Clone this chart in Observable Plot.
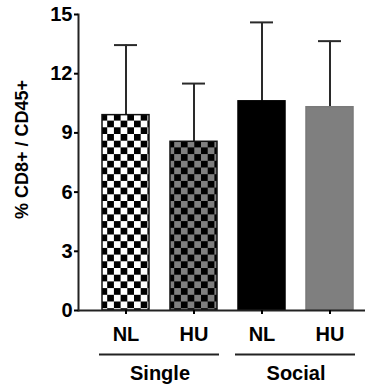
<!DOCTYPE html>
<html>
<head>
<meta charset="utf-8">
<script src="https://cdn.jsdelivr.net/npm/d3@7"></script>
<script src="https://cdn.jsdelivr.net/npm/@observablehq/plot@0.6"></script>
<style>
  html, body { margin: 0; padding: 0; background: #fff; }
  #chart svg { display: block; }
</style>
</head>
<body>
<svg width="0" height="0" style="position:absolute">
  <defs>
    <pattern id="checkWhite" patternUnits="userSpaceOnUse" width="13.4" height="13.4">
      <rect width="13.4" height="13.4" fill="#ffffff"></rect>
      <rect x="0" y="0" width="6.7" height="6.7" fill="#000"></rect>
      <rect x="6.7" y="6.7" width="6.7" height="6.7" fill="#000"></rect>
    </pattern>
    <pattern id="checkGray" patternUnits="userSpaceOnUse" width="13.4" height="13.4">
      <rect width="13.4" height="13.4" fill="#7f7f7f"></rect>
      <rect x="0" y="0" width="6.7" height="6.7" fill="#000"></rect>
      <rect x="6.7" y="6.7" width="6.7" height="6.7" fill="#000"></rect>
    </pattern>
  </defs>
</svg>
<div id="chart"></div>
<script>
// Data
const groups = ["Single", "Single", "Social", "Social"];
const conditions = ["NL", "HU", "NL", "HU"];
const means = [9.9, 8.55, 10.6, 10.3];
const sds = [3.55, 2.95, 4.0, 3.35];
const yTicks = [0, 3, 6, 9, 12, 15];
const groupNames = ["Single", "Social"];
const yTitle = "% CD8+ / CD45+";

// Styles
const fills = ["url(#checkWhite)", "url(#checkGray)", "#000000", "#7f7f7f"];
const strokes = ["#111", "#111", "#000", "#7a7a7a"];

const rows = conditions.map((c, i) => ({
  key: groups[i] + " " + c,
  group: groups[i],
  cond: c,
  mean: means[i],
  top: means[i] + sds[i],
  fill: fills[i],
  stroke: strokes[i]
}));
const keys = rows.map(d => d.key);
const labelOf = Object.fromEntries(rows.map(d => [d.key, d.cond]));
const groupRows = groupNames.map(g => {
  const members = rows.filter(d => d.group === g);
  return { name: g, first: members[0].key, last: members[members.length - 1].key };
});

const font = "'Liberation Sans', Arial, Helvetica, sans-serif";

const chart = Plot.plot({
  width: 373,
  height: 391,
  marginLeft: 78,
  marginRight: 8,
  marginTop: 14,
  marginBottom: 81,
  style: { fontFamily: font, background: "#fff", color: "#000" },
  x: { domain: keys, type: "band", range: [80.7, 375.1], paddingInner: 0.31, paddingOuter: 0.31, align: 0.5 },
  y: { domain: [0, 15] },
  color: { type: "identity" },
  marks: [
    Plot.ruleX(rows, { x: "key", y1: "mean", y2: "top", stroke: "#2a2a2a", strokeWidth: 2 }),
    Plot.tickY(rows, { x: "key", y: "top", stroke: "#2a2a2a", strokeWidth: 2, insetLeft: 12, insetRight: 12 }),
    Plot.barY(rows, { x: "key", y: "mean", fill: "fill", stroke: "stroke", strokeWidth: 1.5 }),
    Plot.ruleY([0], { stroke: "#222", strokeWidth: 2 }),
    Plot.frame({ anchor: "left", stroke: "#222", strokeWidth: 2 }),
    Plot.axisY({
      ticks: yTicks, tickSize: 4, tickPadding: 2, fontSize: 20, fontWeight: "bold",
      label: null, strokeWidth: 2
    }),
    Plot.axisX({
      tickSize: 4, tickPadding: 12, fontSize: 20, fontWeight: "bold",
      tickFormat: k => labelOf[k], label: null, strokeWidth: 2
    }),
    Plot.text([yTitle], { text: d => d, frameAnchor: "left", textAnchor: "middle", lineAnchor: "middle", rotate: -90, dx: -56, dy: -13, fontSize: 18, fontWeight: "bold", fill: "#000" }),
    Plot.ruleY(groupRows, { y: () => 0, x1: "first", x2: "last", dy: 44, stroke: "#222", strokeWidth: 2, insetLeft: -3, insetRight: -2 }),
    Plot.text(groupRows, { x: "first", y: () => 0, text: "name", dx: 34, dy: 63, fontSize: 20, fontWeight: "bold", fill: "#000" })
  ]
});

document.getElementById("chart").appendChild(chart);
</script>
</body>
</html>
